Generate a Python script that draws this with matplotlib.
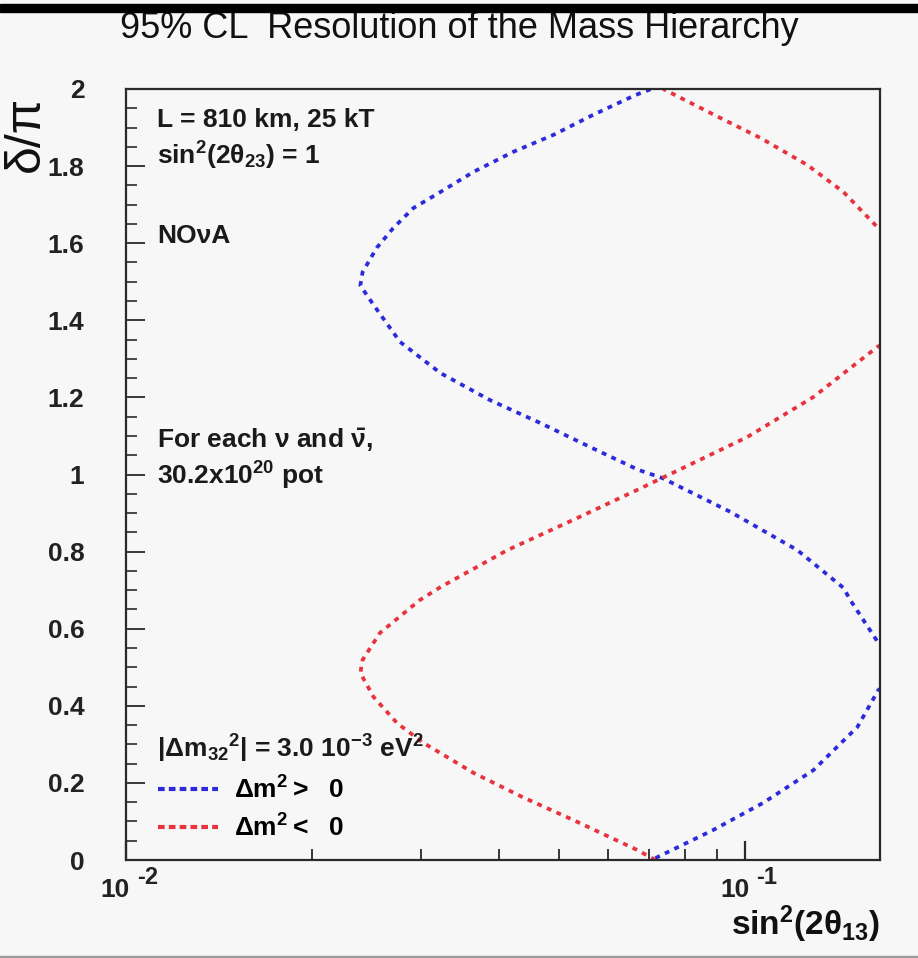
import numpy as np
import matplotlib
matplotlib.use("Agg")
import matplotlib.pyplot as plt
from matplotlib.lines import Line2D
from matplotlib.patches import Rectangle
import matplotlib.transforms as mtrans

plt.rcParams['font.family'] = ['Liberation Sans', 'DejaVu Sans']
plt.rcParams['mathtext.fontset'] = 'custom'
plt.rcParams['mathtext.rm'] = 'Liberation Sans:bold'
plt.rcParams['mathtext.bf'] = 'Liberation Sans:bold'
plt.rcParams['mathtext.it'] = 'Liberation Sans:bold'

# ---------------- data ----------------
# Delta m^2 > 0 (blue): delta/pi and sin^2(2theta13); NaN = outside the plotted range
blue_delta = [0.005, 0.078, 0.148, 0.233, 0.345, 0.441, 0.452, np.nan,
              0.552, 0.563, 0.674, 0.706, 0.804, 0.903, 0.991, 1.012, 1.071,
              1.134, 1.193, 1.263, 1.344, 1.440, 1.490, 1.525, 1.588, 1.639,
              1.691, 1.733, 1.785, 1.837, 1.881, 1.933, 1.984, 2.0]
blue_s13 = [0.0716, 0.0888, 0.1068, 0.1288, 0.1517, 0.1640, 0.168, np.nan,
            0.168, 0.1640, 0.1478, 0.1440, 0.1213, 0.0946, 0.0734, 0.0672, 0.0562,
            0.0466, 0.0387, 0.0322, 0.0277, 0.0251, 0.0239, 0.0241, 0.0254, 0.0270,
            0.0291, 0.0322, 0.0364, 0.0422, 0.0490, 0.0568, 0.0664, 0.0705]

# Delta m^2 < 0 (red)
red_delta = [0.0, 0.026, 0.104, 0.163, 0.226, 0.304, 0.355, 0.423, 0.485,
             0.519, 0.589, 0.674, 0.708, 0.804, 0.882, 0.960, 0.991, 1.097,
             1.201, 1.331, 1.342, np.nan, 1.630, 1.639, 1.733, 1.803, 1.873,
             1.925, 2.0]
red_s13 = [0.0716, 0.0669, 0.0527, 0.0437, 0.0364, 0.0302, 0.0274, 0.0251, 0.0239,
           0.0241, 0.0257, 0.0298, 0.0322, 0.0413, 0.0527, 0.0669, 0.0734, 0.1007,
           0.1288, 0.1634, 0.168, np.nan, 0.168, 0.1640, 0.1440, 0.1259, 0.1058,
           0.0911, 0.0737]

x_major = [0.01, 0.1]
x_major_base = ["10", "10"]
x_major_exp = ["-2", "-1"]
x_minor = [0.02, 0.03, 0.04, 0.05, 0.06, 0.07, 0.08, 0.09]
y_major = [0, 0.2, 0.4, 0.6, 0.8, 1.0, 1.2, 1.4, 1.6, 1.8, 2.0]
y_major_labels = ["0", "0.2", "0.4", "0.6", "0.8", "1", "1.2", "1.4", "1.6", "1.8", "2"]

title = "95% CL  Resolution of the Mass Hierarchy"
label_blue = r"$\mathrm{\Delta m^2 >\ \ 0}$"
label_red = r"$\mathrm{\Delta m^2 <\ \ 0}$"

BLUE = "#2b2bdc"
RED = "#e8323e"
BG = "#f7f7f7"

# ---------------- figure ----------------
W, H = 918, 958
fig = plt.figure(figsize=(W / 100, H / 100), dpi=100, facecolor=BG)
ax = fig.add_axes([126 / W, 1 - 860 / H, (880 - 126) / W, (860 - 89) / H], facecolor=BG)

dot_ls = (0, (1.3, 1.5))
ax.plot(blue_s13, blue_delta, color=BLUE, lw=2.7, ls=dot_ls, dash_capstyle='butt')
ax.plot(red_s13, red_delta, color=RED, lw=2.7, ls=dot_ls, dash_capstyle='butt')

ax.set_xscale('log')
ax.set_xlim(0.01, 0.165)
ax.set_ylim(0, 2)

for sp in ax.spines.values():
    sp.set_linewidth(1.6)
    sp.set_color('#2a2a2a')

ax.set_xticks(x_major)
ax.set_xticks(x_minor, minor=True)
ax.set_xticklabels([])
ax.xaxis.set_minor_formatter(matplotlib.ticker.NullFormatter())
ax.tick_params(axis='x', which='major', direction='in', length=14, width=1.6, color='#2a2a2a', top=False)
ax.tick_params(axis='x', which='minor', direction='in', length=8, width=1.3, color='#2a2a2a', top=False)

ax.set_yticks(y_major)
ax.set_yticklabels(y_major_labels, fontsize=19, fontweight='bold', color='#222222')
ax.set_yticks(np.arange(0, 2.0001, 0.05), minor=True)
ax.tick_params(axis='y', which='major', direction='in', length=14, width=1.3, color='#2a2a2a', pad=30, right=False)
ax.tick_params(axis='y', which='minor', direction='in', length=8, width=1.2, color='#2a2a2a', right=False)

# x tick labels in ROOT style: "10" with raised exponent
xt = ax.get_xaxis_transform()
for v, b, e in zip(x_major, x_major_base, x_major_exp):
    ax.text(v, 0, b, transform=xt + mtrans.ScaledTranslation(4 / 100, -30 / 100, fig.dpi_scale_trans),
            ha='right', va='center', fontsize=19, fontweight='bold', color='#222222')
    ax.text(v, 0, e, transform=xt + mtrans.ScaledTranslation(11 / 100, -17 / 100, fig.dpi_scale_trans),
            ha='left', va='center', fontsize=17, fontweight='bold', color='#222222')

# axis titles
fig.text(880 / W, 1 - 935 / H, r"$\mathrm{sin^2(2θ_{13})}$", ha='right', va='baseline', fontsize=24, color='#111111')
fig.text(26 / W, 1 - 134 / H, "δ/π", rotation=90, ha='center', va='center', fontsize=36,
         color='#111111')

# title
fig.text(0.5, 1 - 38 / H, title, ha='center', va='baseline', fontsize=26, color='#111111')

# annotations
tk = dict(transform=ax.transAxes, fontsize=19, fontweight='bold', color='#1a1a1a', ha='left', va='baseline')
ax.text(0.041, 0.9507, "L = 810 km, 25 kT", **tk)
ax.text(0.041, 0.9014, r"$\mathrm{sin^2(2θ_{23})}$ = 1", **tk)
ax.text(0.041, 0.800, "NOνA", **tk)
ax.text(0.041, 0.534, r"For each ν and $\bar{\mathrm{ν}}$,", **tk)
ax.text(0.041, 0.4864, r"$\mathrm{30.2x10^{20}}$ pot", **tk)
ax.text(0.041, 0.1323, r"$\mathrm{|\Delta m_{32}{}^2|}$ = 3.0 $\mathrm{10^{-3}}$ $\mathrm{eV^2}$", **tk)

handles = [Line2D([], [], color=BLUE, lw=3.0, ls=(0, (1.6, 1.0)), dash_capstyle='butt'),
           Line2D([], [], color=RED, lw=3.0, ls=(0, (1.6, 1.0)), dash_capstyle='butt')]
leg = ax.legend(handles, [label_blue, label_red], loc='upper left', bbox_to_anchor=(0.042, 0.109),
                frameon=False, fontsize=19, handlelength=2.3, handletextpad=0.6,
                labelspacing=0.42, borderpad=0, borderaxespad=0)

# frame decorations of the screenshot
fig.patches.append(Rectangle((0, 1 - 12 / H), 1, 8 / H, transform=fig.transFigure, color='black', zorder=10))
fig.patches.append(Rectangle((0, 0), 1, 2 / H, transform=fig.transFigure, color='#9a9a9a', zorder=10))

fig.savefig("out.png", dpi=100, facecolor=BG)
